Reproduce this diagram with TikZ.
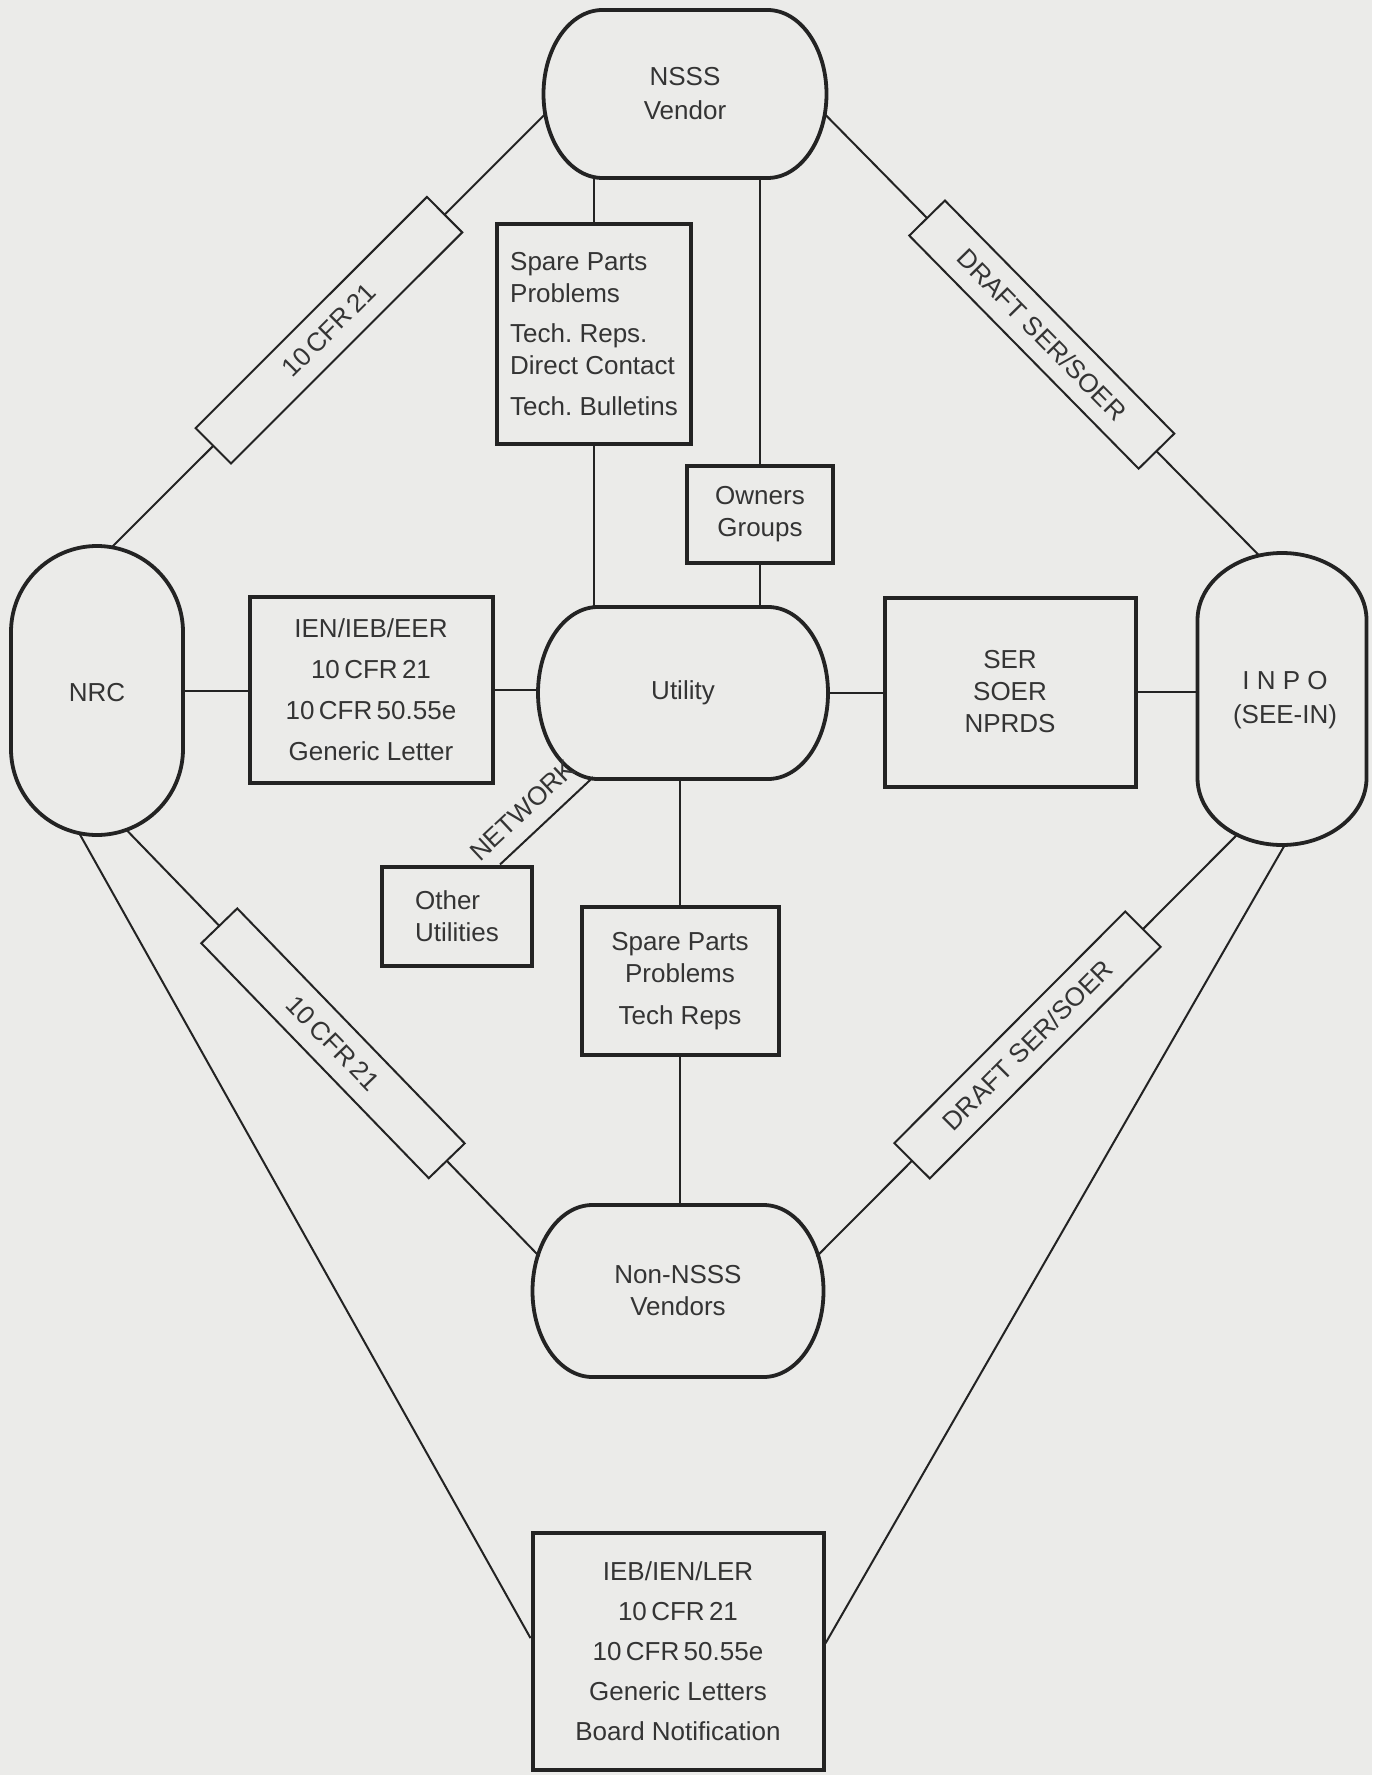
\documentclass[tikz,border=0pt]{standalone}
\usepackage{fontspec}
\setmainfont{Liberation Sans}
\usetikzlibrary{shapes.misc}
\definecolor{paper}{RGB}{235,235,233}
\definecolor{ink}{RGB}{35,35,35}
\definecolor{txt}{RGB}{52,52,52}
\newcommand{\dfont}{\fontsize{13pt}{16pt}\selectfont}
\frenchspacing
\tikzset{
  box/.style={draw=ink, line width=2pt, rectangle, inner sep=2pt, text=txt, font=\dfont, align=center},
  stad/.style={rounded rectangle, rounded rectangle arc length=140, inner sep=2pt, text=txt, font=\dfont, align=center},
  vstad/.style={rounded rectangle, rotate=90, inner sep=0pt},
  stline/.style={draw=ink, line width=1.9pt},
  conn/.style={draw=ink, line width=1pt},
  tag/.style={draw=ink, line width=1pt, fill=paper, sloped, rectangle, minimum width=163.5pt, minimum height=25pt, inner sep=0pt, text=txt, font=\dfont},
  lbl/.style={text=txt, font=\dfont, align=center},
}
% outline of a horizontal stadium: name, half flat length, x radius, y radius (pt)
\newcommand{\hstadline}[4]{%
  \draw[stline] ([shift={(-#2pt,#4pt)}]#1.center)
    arc[start angle=90,end angle=270,x radius=#3pt,y radius=#4pt]
    -- ([shift={(#2pt,-#4pt)}]#1.center)
    arc[start angle=-90,end angle=90,x radius=#3pt,y radius=#4pt] -- cycle;}
% outline of a vertical stadium: name, half straight length, x radius, y radius (pt)
\newcommand{\vstadline}[4]{%
  \draw[stline] ([shift={(#3pt,#2pt)}]#1.center)
    arc[start angle=0,end angle=180,x radius=#3pt,y radius=#4pt]
    -- ([shift={(-#3pt,-#2pt)}]#1.center)
    arc[start angle=180,end angle=360,x radius=#3pt,y radius=#4pt] -- cycle;}
\begin{document}
\begin{tikzpicture}[x=0.5pt, y=-0.5pt]
\useasboundingbox (0,0) rectangle (1372,1775);
\fill[paper] (0,0) rectangle (1372,1775);

% main nodes
\node[stad, minimum width=145pt, minimum height=84pt] (nsss) at (685,94) {NSSS\\[1pt]Vendor};
\hstadline{nsss}{41.25}{29.5}{42}
\node[box, minimum width=97pt, minimum height=110pt, align=left] (spareT) at (594,334)
  {Spare Parts\\Problems\\[4pt]Tech. Reps.\\Direct Contact\\[4.5pt]Tech. Bulletins};
\node[box, minimum width=73pt, minimum height=48.5pt] (owners) at (760,514) {Owners\\Groups};
\node[vstad, minimum width=144.5pt, minimum height=86pt, rounded rectangle arc length=180] (nrc) at (97,690.5) {};
\vstadline{nrc}{29.25}{43}{43}
\node[lbl] (nrcT) at (97,693) {NRC};
\node[box, minimum width=121.5pt, minimum height=93pt] (ien) at (371,690)
  {IEN/IEB/EER\\[4.5pt]10\,CFR\,21\\[4.5pt]10\,CFR\,50.55e\\[4.5pt]Generic Letter};
\node[stad, minimum width=148.5pt, minimum height=86pt] (util) at (683,693) {Utility};
\hstadline{util}{42.5}{30}{43}
\node[box, minimum width=125.5pt, minimum height=94.5pt] (ser) at (1010,692) {SER\\SOER\\NPRDS};
\node[vstad, minimum width=146pt, minimum height=84.5pt, rounded rectangle arc length=160] (inpo) at (1282,699) {};
\vstadline{inpo}{39.5}{42.25}{33.5}
\node[lbl] (inpoT) at (1285,700) {I N P O\\[1pt](SEE-IN)};
\node[box, minimum width=75pt, minimum height=49.5pt, align=left] (other) at (457,916) {Other\\Utilities};
\node[box, minimum width=98.5pt, minimum height=74pt] (spareB) at (680,981) {Spare Parts\\Problems\\[5pt]Tech Reps};
\node[stad, minimum width=149pt, minimum height=86pt] (nonn) at (678,1291) {Non-NSSS\\Vendors};
\hstadline{nonn}{42.75}{30}{43}
\node[box, minimum width=145.5pt, minimum height=118.5pt] (bot) at (678,1651)
  {IEB/IEN/LER\\[4pt]10\,CFR\,21\\[4pt]10\,CFR\,50.55e\\[4pt]Generic Letters\\[4pt]Board Notification};

% horizontal connectors
\draw[conn] (nrc.south) -- (nrc.south -| ien.west);
\draw[conn] (ien.east) -- (ien.east -| util.west);
\draw[conn] (util.east) -- (util.east -| ser.west);
\draw[conn] (ser.east) -- (ser.east -| inpo.north);

% vertical connectors
\draw[conn] (spareT.north) -- (spareT.north |- nsss.south);
\draw[conn] (spareT.south) -- (spareT.south |- util.north);
\draw[conn] (owners.north) -- (owners.north |- nsss.south);
\draw[conn] (owners.south) -- (owners.south |- util.north);
\draw[conn] (spareB.north) -- (spareB.north |- util.south);
\draw[conn] (spareB.south) -- (spareB.south |- nonn.north);

% network
\draw[conn] ([xshift=21.5pt]other.north) -- node[lbl, sloped, above=6pt, inner sep=1pt, pos=0.42] (netT) {NETWORK} (util);

% diagonals with tags
\draw[conn] (nrc.354.9) -- node[tag, pos=0.5] (tagA) {10\,CFR\,21} (nsss.188.4);
\draw[conn] (nsss.352.2) -- node[tag, pos=0.5] (tagB) {DRAFT SER/SOER} (inpo.9.7);
\draw[conn] (nrc.192) -- node[tag, pos=0.5] (tagC) {10\,CFR\,21} (nonn.166.4);
\draw[conn] (inpo.162.3) -- node[tag, pos=0.5] (tagD) {DRAFT SER/SOER} (nonn.14.5);

% long diagonals to bottom box
\draw[conn] (nrc.173.4) -- (bot.175.3);
\draw[conn] (inpo.181.9) -- (bot.3.9);
\end{tikzpicture}
\end{document}
